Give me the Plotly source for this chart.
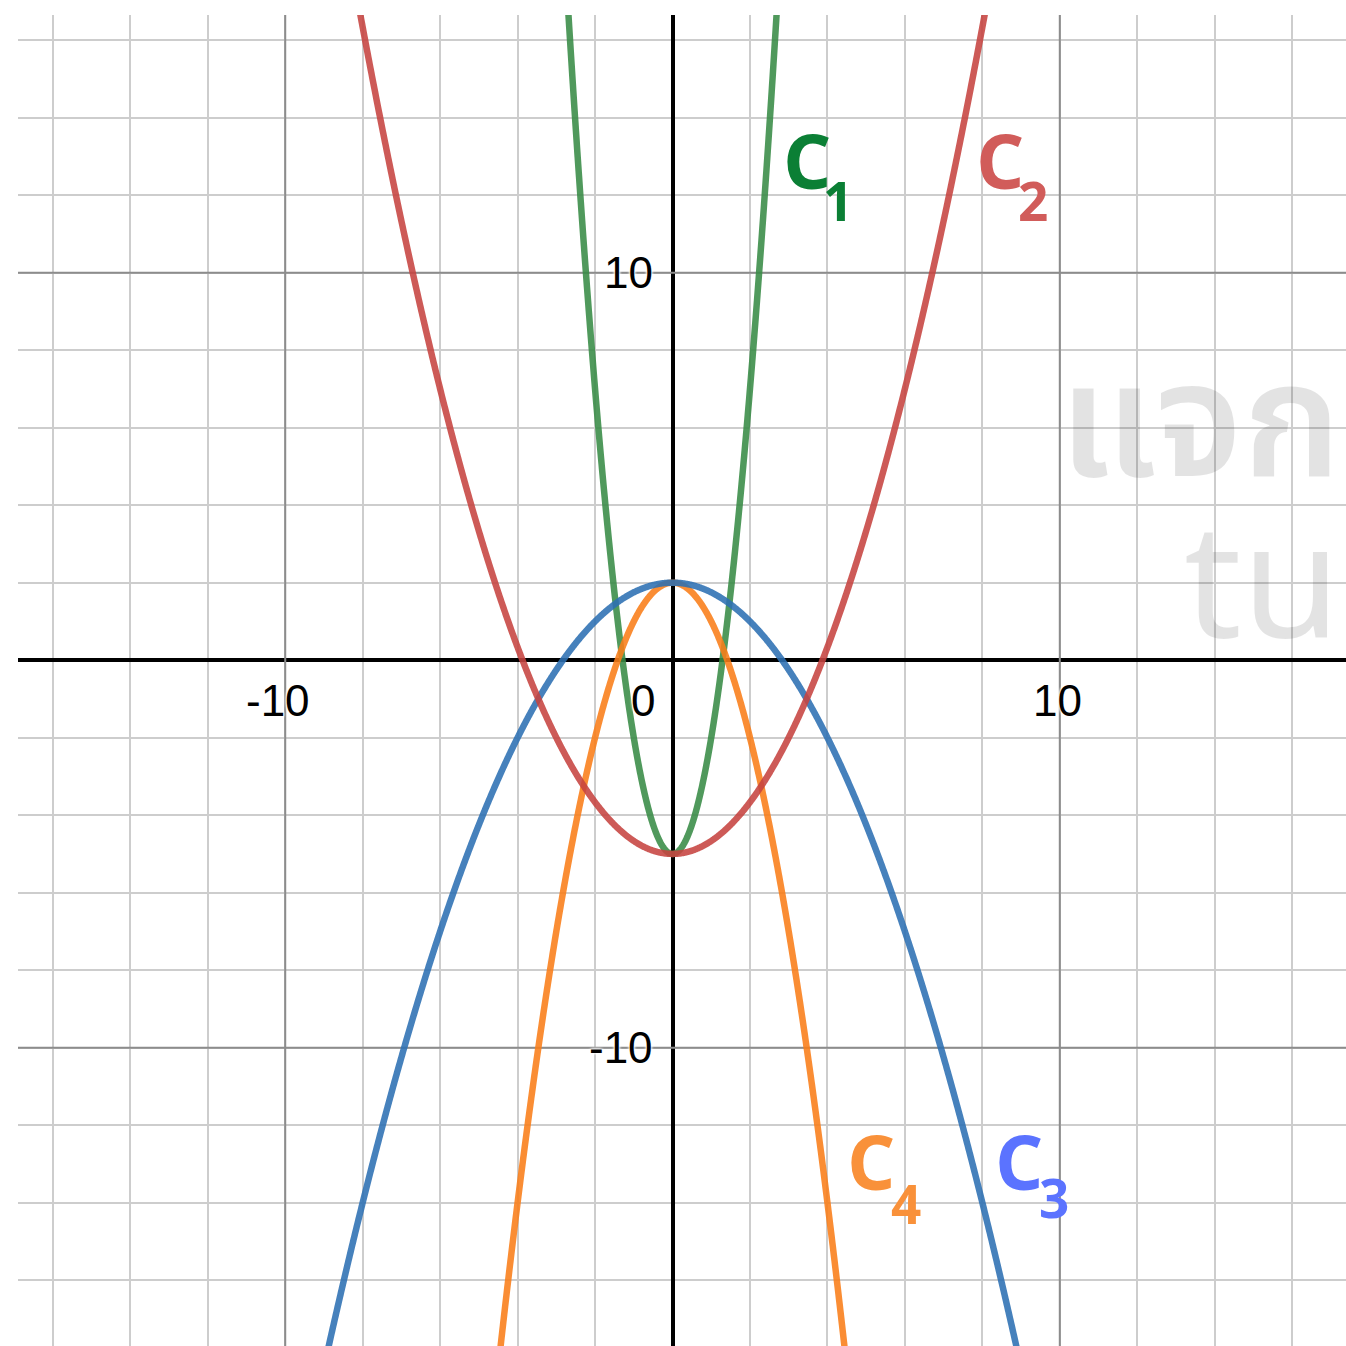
import numpy as np
import plotly.graph_objects as go

# parabolas y = a*x^2 + c
names = ["C1", "C2", "C3", "C4"]
coef_a = [3, 1/3, -1/4, -1]
coef_c = [-5, -5, 2, 2]
line_colors = ["#388c46", "#c74440", "#2d70b3", "#fa7e19"]
label_colors = ["#0b7f35", "#d15c5a", "#5b73ff", "#f9913a"]
subs = ["1", "2", "3", "4"]

x_ticks = [-10, 0, 10]
y_ticks = [10, -10]

xr = [-16.90, 17.39]
yr = [-17.70, 16.65]

fig = go.Figure()

xs = np.linspace(xr[0], xr[1], 3000)
draw_order = [0, 3, 2, 1]
for i in draw_order:
    ys = coef_a[i] * xs**2 + coef_c[i]
    fig.add_trace(go.Scatter(x=xs, y=ys, mode="lines", name=names[i],
                             line=dict(color=line_colors[i], width=6.5, simplify=False),
                             opacity=0.88, hoverinfo="skip"))

# darker major grid lines at +-10
for v in [-10, 10]:
    fig.add_shape(type="line", x0=v, x1=v, y0=yr[0], y1=yr[1],
                  line=dict(color="#8c8c8c", width=2), layer="between")
    fig.add_shape(type="line", x0=xr[0], x1=xr[1], y0=v, y1=v,
                  line=dict(color="#8c8c8c", width=2), layer="between")

halo = "0 0 3px white, 0 0 3px white, 0 0 3px white"
tick_font = dict(family="Liberation Sans, Arial", size=44, color="black", shadow=halo)
x_lab_pos = [-10.19, -0.76, 9.95]
for t, xp in zip(x_ticks, x_lab_pos):
    fig.add_annotation(x=xp, y=-1.03, text=str(t), showarrow=False,
                       font=tick_font, xanchor="center", yanchor="middle")
for t in y_ticks:
    fig.add_annotation(x=-0.45, y=t, text=str(t), showarrow=False,
                       font=tick_font, xanchor="right", yanchor="middle")

# curve labels
label_pos = {
    "C1": ((3.47, 12.91), (4.27, 11.85)),
    "C2": ((8.46, 12.91), (9.31, 11.85)),
    "C3": ((8.95, -12.90), (9.85, -13.88)),
    "C4": ((5.13, -12.90), (6.03, -14.03)),
}
for i, n in enumerate(names):
    (cx, cy), (sx, sy) = label_pos[n]
    fig.add_annotation(x=cx, y=cy, text="<b>C</b>", showarrow=False,
                       font=dict(family="Open Sans", size=76, color=label_colors[i]),
                       xanchor="center", yanchor="middle")
    fig.add_annotation(x=sx, y=sy, text="<b>" + subs[i] + "</b>", showarrow=False,
                       font=dict(family="Open Sans", size=53, color=label_colors[i]),
                       xanchor="center", yanchor="middle")

# watermark
wm = dict(family="Noto Sans, Noto Sans Thai, sans-serif", size=160, color="rgba(0,0,0,0.11)")
fig.add_annotation(x=17.3, y=6.35, text="แจก", showarrow=False,
                   font=dict(wm, weight=600), xanchor="right", yanchor="middle")
fig.add_annotation(x=17.3, y=2.2, text="tu", showarrow=False, font=wm,
                   xanchor="right", yanchor="middle")

axis_common = dict(showticklabels=False, ticks="", dtick=2, tick0=0,
                   showgrid=True, gridcolor="#cdcdcd", gridwidth=2,
                   zeroline=True, zerolinecolor="black", zerolinewidth=3.5,
                   showline=False, fixedrange=True)
fig.update_xaxes(range=xr, **axis_common)
fig.update_yaxes(range=yr, **axis_common)

fig.update_layout(width=1346, height=1346,
                  margin=dict(l=18, r=0, t=15, b=0),
                  plot_bgcolor="white", paper_bgcolor="white",
                  showlegend=False)

fig.write_html("out.html", config={"displayModeBar": False},
               post_script="document.body.style.margin='0';document.body.style.overflow='hidden';")
